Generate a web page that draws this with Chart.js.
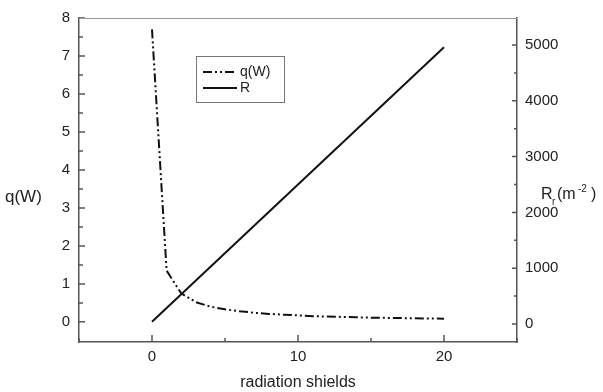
<!DOCTYPE html>
<html>
<head>
<meta charset="utf-8">
<script src="https://cdn.jsdelivr.net/npm/chart.js@4"></script>
<style>
  html, body { margin: 0; padding: 0; background: #fff; }
  #wrap { width: 603px; height: 392px; }
</style>
</head>
<body>
<div id="wrap"><canvas id="chart"></canvas></div>
<script>
// shields count and readings
const shieldsQ = [0, 1, 2, 3, 4, 5, 6, 7, 8, 9, 10, 11, 12, 13, 14, 15, 16, 17, 18, 19, 20];
const qValues = [7.7, 1.35, 0.75, 0.52, 0.4, 0.33, 0.28, 0.24, 0.21, 0.19, 0.17, 0.15, 0.14, 0.13, 0.12, 0.11, 0.105, 0.1, 0.095, 0.09, 0.085];
const shieldsR = [0, 20];
const rValues = [40, 4960];

const xTicks = [0, 10, 20];
const qTicks = [0, 1, 2, 3, 4, 5, 6, 7, 8];
const rTicks = [0, 1000, 2000, 3000, 4000, 5000];

const FONT = '"Liberation Sans", Arial, sans-serif';
const qDash = [9, 3, 2, 3, 2, 3];

function fixTicks(list) {
  return function (scale) { scale.ticks = list.map(v => ({ value: v })); };
}

// inward ticks, frame top, axis titles, legend box
const extras = {
  id: 'extras',
  afterDraw(chart) {
    const c = chart.ctx, a = chart.chartArea;
    const sx = chart.scales.x, sq = chart.scales.yq, sr = chart.scales.yr;
    c.save();
    c.strokeStyle = '#555';
    c.lineWidth = 1.5;
    c.beginPath();
    for (let v = -5; v <= 25; v += 5) {
      const p = sx.getPixelForValue(v);
      const len = v % 10 === 0 ? 7 : 4;
      c.moveTo(p, a.bottom); c.lineTo(p, a.bottom - len);
    }
    for (let v = 0; v <= 8; v += 0.5) {
      const p = sq.getPixelForValue(v);
      const len = Number.isInteger(v) ? 6 : 4;
      c.moveTo(a.left, p); c.lineTo(a.left + len, p);
    }
    for (let v = 0; v <= 5000; v += 500) {
      const p = sr.getPixelForValue(v);
      const len = v % 1000 === 0 ? 5 : 3;
      c.moveTo(a.right, p); c.lineTo(a.right - len, p);
    }
    c.stroke();
    c.strokeStyle = '#999';
    c.lineWidth = 1;
    c.beginPath();
    c.moveTo(a.left, a.top + 0.5); c.lineTo(a.right, a.top + 0.5);
    c.stroke();

    c.fillStyle = '#222';
    c.textBaseline = 'middle';
    c.font = '17px ' + FONT;
    c.textAlign = 'left';
    c.fillText('q(W)', 5, 197);
    c.textAlign = 'center';
    c.font = '16px ' + FONT;
    c.fillText('radiation shields', (a.left + a.right) / 2, 383);

    // R_r(m^-2)
    c.textAlign = 'left';
    c.textBaseline = 'alphabetic';
    c.font = '16px ' + FONT;
    c.fillText('R', 541, 199);
    c.fillText('(m', 557, 199);
    c.fillText(')', 591, 199);
    c.font = '10px ' + FONT;
    c.fillText('r', 552, 205);
    c.fillText('-2', 578, 192);

    // legend
    c.strokeStyle = '#777';
    c.lineWidth = 1;
    c.strokeRect(196.5, 56.5, 88, 46);
    c.strokeStyle = '#111';
    c.lineWidth = 2;
    c.setLineDash(qDash);
    c.beginPath(); c.moveTo(203, 72); c.lineTo(237, 72); c.stroke();
    c.setLineDash([]);
    c.beginPath(); c.moveTo(203, 88); c.lineTo(237, 88); c.stroke();
    c.fillStyle = '#222';
    c.font = '14px ' + FONT;
    c.textBaseline = 'middle';
    c.fillText(chart.data.datasets[0].label, 240, 72);
    c.fillText(chart.data.datasets[1].label, 240, 88);
    c.restore();
  }
};

new Chart(document.getElementById('chart'), {
  type: 'line',
  data: {
    datasets: [
      {
        label: 'q(W)',
        data: shieldsQ.map((s, i) => ({ x: s, y: qValues[i] })),
        yAxisID: 'yq',
        borderColor: '#111',
        borderWidth: 2,
        borderDash: qDash,
        pointRadius: 0,
        tension: 0
      },
      {
        label: 'R',
        data: shieldsR.map((s, i) => ({ x: s, y: rValues[i] })),
        yAxisID: 'yr',
        borderColor: '#111',
        borderWidth: 2,
        pointRadius: 0,
        tension: 0
      }
    ]
  },
  options: {
    responsive: true,
    maintainAspectRatio: false,
    animation: false,
    layout: { padding: { top: 18, left: 0, right: 0, bottom: 0 } },
    plugins: { legend: { display: false }, tooltip: { enabled: false } },
    scales: {
      x: {
        type: 'linear',
        position: 'bottom',
        min: -5,
        max: 25,
        afterBuildTicks: fixTicks(xTicks),
        afterFit(s) { s.height = 50; },
        grid: { drawOnChartArea: false, drawTicks: false },
        border: { display: true, color: '#555', width: 1.5 },
        ticks: { padding: 6, color: '#222', font: { family: FONT, size: 15 }, callback: v => String(v) }
      },
      yq: {
        type: 'linear',
        position: 'left',
        min: -0.53,
        max: 8,
        afterBuildTicks: fixTicks(qTicks),
        afterFit(s) { s.width = 79; },
        grid: { drawOnChartArea: false, drawTicks: false },
        border: { display: true, color: '#555', width: 1.5 },
        ticks: { padding: 9, color: '#222', font: { family: FONT, size: 15 }, callback: v => String(v) }
      },
      yr: {
        type: 'linear',
        position: 'right',
        min: -323,
        max: 5484,
        afterBuildTicks: fixTicks(rTicks),
        afterFit(s) { s.width = 86; },
        grid: { drawOnChartArea: false, drawTicks: false },
        border: { display: true, color: '#555', width: 1.5 },
        ticks: { padding: 8, color: '#222', font: { family: FONT, size: 15 }, callback: v => String(v) }
      }
    }
  },
  plugins: [extras]
});
</script>
</body>
</html>
